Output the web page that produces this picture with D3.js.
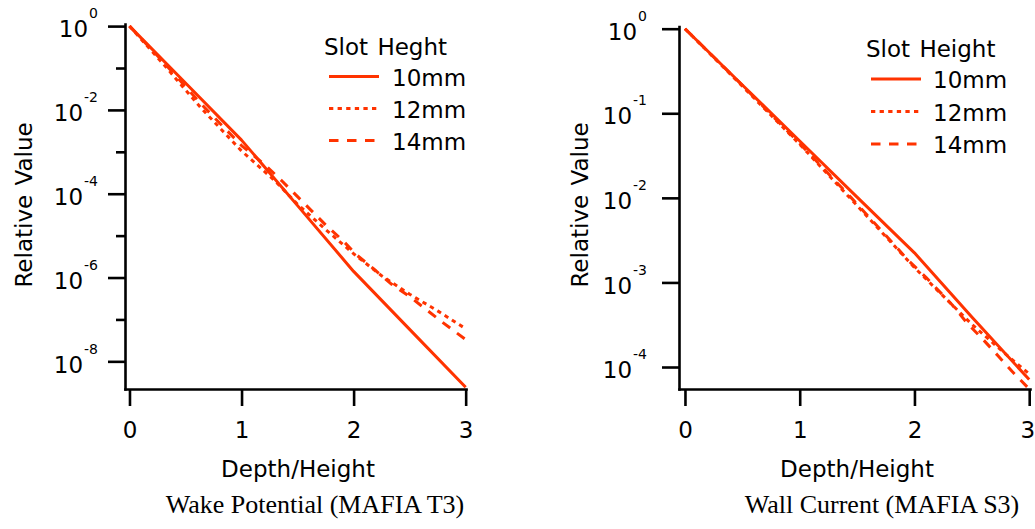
<!DOCTYPE html>
<html><head><meta charset="utf-8">
<script src="https://cdn.jsdelivr.net/npm/d3@7"></script>
<style>
html,body{margin:0;padding:0;background:#fff;}
svg{display:block;}
</style></head>
<body>
<svg id="chart" width="1035" height="529"></svg>
<script>
// ---------- data ----------
const legendTitles = ["Slot Heght", "Slot Height"];
const seriesNames = ["10mm", "12mm", "14mm"];
const captions = ["Wake Potential (MAFIA T3)", "Wall Current (MAFIA S3)"];
const xTicks = [0, 1, 2, 3];
const yMajorL = [1, 1e-2, 1e-4, 1e-6, 1e-8];
const yMinorL = [1e-1, 1e-3, 1e-5, 1e-7];
const yMajorR = [1, 1e-1, 1e-2, 1e-3, 1e-4];

// Wake potential (left)
const wake10D = [0, 0.5, 1.0, 1.1, 1.5, 2.0, 2.5, 3.0];
const wake10V = [1, 4.4e-2, 1.9e-3, 9.3e-4, 5.2e-5, 1.4e-6, 5.8e-8, 2.4e-9];
const wake12D = [0, 0.3, 0.64, 1.0, 1.3, 1.5, 1.75, 2.0, 2.25, 2.5, 2.75, 3.0];
const wake12V = [1, 0.126, 1.1e-2, 1.05e-3, 2.0e-4, 5.6e-5, 1.4e-5, 3.7e-6, 1.1e-6, 4.0e-7, 1.6e-7, 6.0e-8];
const wake14D = [0, 0.3, 0.64, 1.0, 1.22, 1.37, 1.5, 1.63, 1.75, 1.9, 2.03, 2.18, 2.34, 2.5, 2.65, 2.8, 3.0];
const wake14V = [1, 0.141, 1.38e-2, 1.41e-3, 4.6e-4, 1.9e-4, 8.5e-5, 3.8e-5, 1.8e-5, 7.8e-6, 3.4e-6, 1.6e-6, 6.9e-7, 3.5e-7, 1.7e-7, 8.3e-8, 3.3e-8];

// Wall current (right)
const wall10D = [0, 0.5, 1, 1.5, 2, 2.5, 3];
const wall10V = [1, 0.216, 4.7e-2, 1.02e-2, 2.24e-3, 3.9e-4, 7.1e-5];
const wall12D = [0, 0.5, 1, 1.5, 2, 2.5, 2.8, 3];
const wall12V = [1, 0.209, 4.3e-2, 8.1e-3, 1.5e-3, 3.2e-4, 1.4e-4, 8.3e-5];
const wall14D = [0, 0.5, 1, 1.45, 1.72, 1.95, 2.1, 2.33, 2.46, 2.6, 2.73, 2.85, 3];
const wall14V = [1, 0.214, 4.4e-2, 1.0e-2, 4.0e-3, 1.8e-3, 1.15e-3, 5.4e-4, 3.3e-4, 2.1e-4, 1.35e-4, 8.9e-5, 5.5e-5];

// ---------- style ----------
const RED = "#ff3300";
const SANS = "DejaVu Sans, Verdana, sans-serif";
const SERIF = "Liberation Serif, Times New Roman, serif";
const dashes = [null, "4.3,4.3", "9.5,8.5"];

const svg = d3.select("#chart");

function zip(D, V) { return D.map((d, i) => ({ d: d, v: V[i] })); }

const panels = [
  {
    xRange: [125, 466], xDomain: [-0.04, 3.003],
    yRange: [389, 24], yDomain: [Math.pow(10, -8.66), Math.pow(10, 0.05)],
    majors: yMajorL, minors: yMinorL, labelGap: 27,
    series: [zip(wake10D, wake10V), zip(wake12D, wake12V), zip(wake14D, wake14V)],
    legendTitle: legendTitles[0], legX: 324, legTitleY: 54.5, legLineX: [329, 379], legRowY: [76.5, 108.5, 140.5], legTextX: 392,
    ylabX: 31.5, caption: captions[0], capX: 315, xTitleX: 298, lastDx: 0
  },
  {
    xRange: [679, 1030], xDomain: [-0.052, 3.007],
    yRange: [389, 26.5], yDomain: [Math.pow(10, -4.26), Math.pow(10, 0.026)],
    majors: yMajorR, minors: [], labelGap: 32,
    series: [zip(wall10D, wall10V), zip(wall12D, wall12V), zip(wall14D, wall14V)],
    legendTitle: legendTitles[1], legX: 866, legTitleY: 56.5, legLineX: [871, 921], legRowY: [79, 111.5, 144], legTextX: 933,
    ylabX: 588, caption: captions[1], capX: 882, xTitleX: 857, lastDx: -2
  }
];

panels.forEach(p => {
  const x = d3.scaleLinear().domain(p.xDomain).range(p.xRange);
  const y = d3.scaleLog().domain(p.yDomain).range(p.yRange);
  const g = svg.append("g");

  // x axis
  const xAx = g.append("g").attr("transform", `translate(0,${p.yRange[0]})`)
    .call(d3.axisBottom(x).tickValues(xTicks).tickSize(17).tickSizeOuter(0).tickFormat(""));
  // y axis minor
  if (p.minors.length) {
    g.append("g").attr("transform", `translate(${p.xRange[0]},0)`)
      .call(d3.axisLeft(y).tickValues(p.minors).tickSize(9).tickSizeOuter(0).tickFormat(""))
      .select(".domain").remove();
  }
  // y axis major
  const yAx = g.append("g").attr("transform", `translate(${p.xRange[0]},0)`)
    .call(d3.axisLeft(y).tickValues(p.majors).tickSize(17).tickSizeOuter(0).tickFormat(""));

  g.selectAll(".domain, .tick line").attr("stroke", "#000").attr("stroke-width", 2.6);
  g.selectAll(".domain").attr("stroke-linecap", "square");

  // x tick labels
  xAx.selectAll(".tick").append("text")
    .attr("y", 49).attr("fill", "#000").attr("text-anchor", "middle")
    .attr("dx", d => d === 3 ? p.lastDx : 0)
    .style("font-family", SANS).style("font-size", "23px")
    .text(d => d);

  // y tick labels 10^n
  yAx.selectAll(".tick").each(function (d) {
    const t = d3.select(this).append("text")
      .attr("x", -p.labelGap).attr("y", 10.7).attr("fill", "#000")
      .attr("text-anchor", "end")
      .style("font-family", SANS).style("font-size", "23px");
    const e = Math.round(Math.log10(d));
    t.append("tspan").text("10");
    t.append("tspan").attr("dy", -19).attr("dx", 1).style("font-size", "14px").text(String(e));
  });

  // lines
  const line = d3.line().x(q => x(q.d)).y(q => y(q.v));
  p.series.forEach((s, i) => {
    g.append("path").datum(s)
      .attr("d", line).attr("fill", "none").attr("stroke", RED)
      .attr("stroke-width", 3).attr("stroke-linejoin", "round")
      .attr("stroke-dasharray", dashes[i]);
  });

  // axis titles
  g.append("text").attr("x", p.xTitleX).attr("y", 477).attr("text-anchor", "middle")
    .style("font-family", SANS).style("font-size", "23px").text("Depth/Height");
  g.append("text").attr("transform", `translate(${p.ylabX},205) rotate(-90)`)
    .attr("text-anchor", "middle").style("font-family", SANS).style("font-size", "23px")
    .style("word-spacing", "2px").text("Relative Value");

  // caption
  g.append("text").attr("x", p.capX).attr("y", 513).attr("text-anchor", "middle")
    .style("font-family", SERIF).style("font-size", "26px").text(p.caption);

  // legend
  g.append("text").attr("x", p.legX).attr("y", p.legTitleY)
    .style("font-family", SANS).style("font-size", "23px").style("word-spacing", "2px").text(p.legendTitle);
  seriesNames.forEach((nm, i) => {
    g.append("line").attr("x1", p.legLineX[0]).attr("x2", p.legLineX[1])
      .attr("y1", p.legRowY[i]).attr("y2", p.legRowY[i])
      .attr("stroke", RED).attr("stroke-width", 3)
      .attr("stroke-dasharray", dashes[i]);
    g.append("text").attr("x", p.legTextX).attr("y", p.legRowY[i] + 9)
      .style("font-family", SANS).style("font-size", "23px").text(nm);
  });
});
</script>
</body></html>
